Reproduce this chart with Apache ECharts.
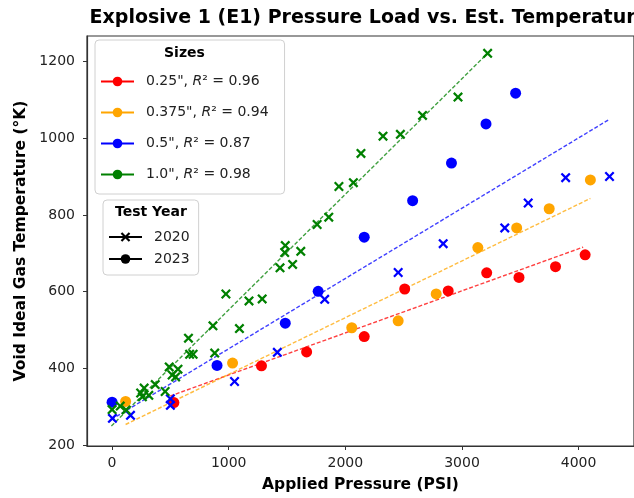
<!DOCTYPE html>
<html>
<head>
<meta charset="utf-8">
<script src="https://cdn.jsdelivr.net/npm/echarts@6/dist/echarts.min.js"></script>
<style>html,body{margin:0;padding:0;background:#fff;}#main{width:634px;height:498px;}</style>
</head>
<body>
<div id="main"></div>
<script>
// ---- data ----
const xTicks = [0, 1000, 2000, 3000, 4000];
const yTicks = [200, 400, 600, 800, 1000, 1200];

const red2023 = [[530,311],[1281,407],[1668,443],[2162,483],[2509,607],[2882,602],[3212,649],[3489,637],[3802,665],[4056,696]];
const orange2023 = [[116,314],[1033,414],[2055,506],[2453,524],[2779,594],[3136,715],[3469,766],[3748,816],[4101,891]];
const blue2020 = [[3,270],[158,278],[500,321],[500,304],[1050,366],[1417,442],[1823,580],[2453,650],[2839,725],[3367,766],[3568,831],[3889,897],[4265,900]];
const blue2023 = [[0,312],[900,408],[1485,518],[1767,601],[2162,742],[2577,837],[2910,935],[3206,1037],[3460,1117]];
const green2020 = [[0,293],[70,302],[120,292],[245,336],[260,326],[275,349],[315,330],[370,358],[455,340],[490,404],[515,383],[545,378],[565,398],[655,479],[665,437],[695,437],[865,511],[880,440],[976,594],[1092,504],[1174,576],[1287,581],[1440,662],[1480,702],[1485,720],[1548,671],[1618,705],[1758,775],[1858,794],[1945,874],[2069,884],[2134,960],[2323,1005],[2472,1010],[2662,1059],[2966,1107],[3220,1221]];

// fitted trend-line endpoints
const fitRed = [[497,328],[4039,716]];
const fitOrange = [[116,254],[4101,843]];
const fitBlue = [[-6,267],[4259,1048]];
const fitGreen = [[-6,250],[3220,1221]];

const sizeNames = ['0.25"', '0.375"', '0.5"', '1.0"'];
const sizeR2 = ['0.96', '0.94', '0.87', '0.98'];
const yearNames = ['2020', '2023'];

// ---- styling ----
const C = {red:'#ff0000', orange:'#ffa500', blue:'#0000ff', green:'#008000'};
const FONT = 'DejaVu Sans';
const xPath = 'path://M0,1.6 L1.6,0 L5,3.4 L8.4,0 L10,1.6 L6.6,5 L10,8.4 L8.4,10 L5,6.6 L1.6,10 L0,8.4 L3.4,5 Z';

function fitLine(name, data, color) {
  return {
    name: name, type: 'line', data: data, symbol: 'none', silent: true, z: 1,
    lineStyle: {color: color, width: 1.4, type: [4, 2], opacity: 0.75}
  };
}
function scatter(name, data, color, sym) {
  return {
    name: name, type: 'scatter', data: data, z: 3,
    symbol: sym === 'x' ? xPath : 'circle',
    symbolSize: sym === 'x' ? 10 : 11,
    itemStyle: {color: color, opacity: 1}
  };
}
function legendDummy(name, color, sym) {
  return {
    name: name, type: 'line', data: [],
    symbol: sym === 'x' ? xPath : 'circle',
    itemStyle: {color: color},
    lineStyle: {color: color, width: 2}
  };
}

const sizeColors = [C.red, C.orange, C.blue, C.green];
const series = [
  fitLine('fitRed', fitRed, C.red),
  fitLine('fitOrange', fitOrange, C.orange),
  fitLine('fitBlue', fitBlue, C.blue),
  fitLine('fitGreen', fitGreen, C.green),
  scatter('red2023', red2023, C.red, 'o'),
  scatter('orange2023', orange2023, C.orange, 'o'),
  scatter('blue2023', blue2023, C.blue, 'o'),
  scatter('blue2020', blue2020, C.blue, 'x'),
  scatter('green2020', green2020, C.green, 'x'),
];
sizeNames.forEach((n, i) => series.push(legendDummy(n, sizeColors[i], 'o')));
series.push(legendDummy(yearNames[0], '#000', 'x'));
series.push(legendDummy(yearNames[1], '#000', 'o'));

const plain = v => String(v);

const chart = echarts.init(document.getElementById('main'), null, {renderer: 'canvas'});
chart.setOption({
  animation: false,
  backgroundColor: '#fff',
  title: {
    text: 'Explosive 1 (E1) Pressure Load vs. Est. Temperature',
    left: 364, top: 4, textAlign: 'center',
    textStyle: {fontFamily: FONT, fontWeight: 'bold', fontSize: 19, color: '#000'}
  },
  graphic: [
    {type: 'text', left: 164, top: 46, z: 100,
     style: {text: 'Sizes', fontFamily: FONT, fontWeight: 'bold', fontSize: 14, fill: '#000'}},
    {type: 'text', left: 115, top: 205, z: 100,
     style: {text: 'Test Year', fontFamily: FONT, fontWeight: 'bold', fontSize: 14, fill: '#000'}}
  ],
  grid: {left: 87, top: 36, right: -8, bottom: 51, show: true, borderColor: '#333', borderWidth: 1.2, backgroundColor: 'transparent'},
  xAxis: {
    type: 'value', min: -215, max: 4475,
    name: 'Applied Pressure (PSI)', nameLocation: 'middle', nameGap: 31,
    nameTextStyle: {fontFamily: FONT, fontWeight: 'bold', fontSize: 15.5, color: '#000'},
    axisLine: {show: true, onZero: false, lineStyle: {color: '#333', width: 1.2}},
    axisTick: {show: true, length: 4, customValues: xTicks, lineStyle: {color: '#333'}},
    axisLabel: {customValues: xTicks, formatter: plain, margin: 10, fontFamily: FONT, fontSize: 14, color: '#222'},
    splitLine: {show: false}
  },
  yAxis: {
    type: 'value', min: 198, max: 1266,
    name: 'Void Ideal Gas Temperature (°K)', nameLocation: 'middle', nameGap: 58, nameRotate: 90,
    nameTextStyle: {fontFamily: FONT, fontWeight: 'bold', fontSize: 15.5, color: '#000'},
    axisLine: {show: true, onZero: false, lineStyle: {color: '#333', width: 1.2}},
    axisTick: {show: true, length: 4, customValues: yTicks, lineStyle: {color: '#333'}},
    axisLabel: {customValues: yTicks, formatter: plain, margin: 12, fontFamily: FONT, fontSize: 14, color: '#222'},
    splitLine: {show: false}
  },
  legend: [
    {
      data: sizeNames, orient: 'vertical', left: 95, top: 40,
      padding: [33, 16, 11, 5], itemGap: 14, itemWidth: 33, itemHeight: 12,
      backgroundColor: 'rgba(255,255,255,0.85)', borderColor: '#d0d0d0', borderWidth: 1, borderRadius: 4,
      selectedMode: false, inactiveColor: '#000',
      formatter: function (name) {
        const i = sizeNames.indexOf(name);
        return name + ', {i|R}² = ' + sizeR2[i];
      },
      textStyle: {fontFamily: FONT, fontSize: 14, color: '#222', lineHeight: 17, padding: [0, 0, 0, 7],
        rich: {i: {fontFamily: FONT, fontSize: 14, fontStyle: 'italic', color: '#222'}}}
    },
    {
      data: yearNames, orient: 'vertical', left: 103, top: 200,
      padding: [29, 9, 8, 5], itemGap: 6, itemWidth: 33, itemHeight: 12,
      backgroundColor: 'rgba(255,255,255,0.85)', borderColor: '#d0d0d0', borderWidth: 1, borderRadius: 4,
      selectedMode: false,
      textStyle: {fontFamily: FONT, fontSize: 14, color: '#222', lineHeight: 16, padding: [0, 0, 0, 7]}
    }
  ],
  series: series
});
</script>
</body>
</html>
